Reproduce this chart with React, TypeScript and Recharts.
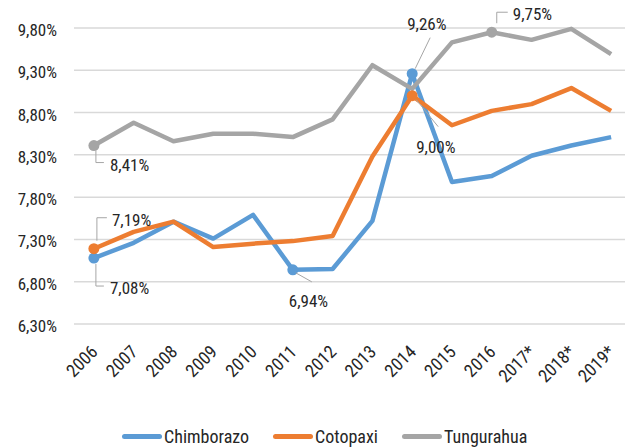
import React from 'react'
import { LineChart, Line, XAxis, YAxis, CartesianGrid } from 'recharts'

const years = ['2006', '2007', '2008', '2009', '2010', '2011', '2012', '2013', '2014', '2015', '2016', '2017*', '2018*', '2019*']
const chimborazo = [7.08, 7.26, 7.51, 7.31, 7.59, 6.94, 6.95, 7.52, 9.26, 7.98, 8.05, 8.29, 8.41, 8.51]
const cotopaxi = [7.19, 7.39, 7.51, 7.21, 7.25, 7.28, 7.34, 8.28, 9.0, 8.65, 8.82, 8.9, 9.09, 8.82]
const tungurahua = [8.41, 8.68, 8.46, 8.55, 8.55, 8.51, 8.72, 9.36, 9.08, 9.63, 9.75, 9.66, 9.79, 9.49]
const yTicks = [6.3, 6.8, 7.3, 7.8, 8.3, 8.8, 9.3, 9.8]

const data = years.map((y, i) => ({
  year: y,
  Chimborazo: chimborazo[i],
  Cotopaxi: cotopaxi[i],
  Tungurahua: tungurahua[i],
}))

const FONT = "'Liberation Sans Narrow', 'Arial Narrow', 'Roboto Condensed', sans-serif"
const TXT = '#262626'
const LEADER = '#A6A6A6'

const pct = (v: number) => v.toFixed(2).replace('.', ',') + '%'

// label placement for the few annotated points (offsets from the point)
type Callout = { index: number; dx: number; dy: number; path: (x: number, y: number) => string }

const calloutsChim: Callout[] = [
  { index: 0, dx: 16, dy: 36, path: (x, y) => `M${x + 2},${y + 6}V${y + 28}H${x + 10}` },
  { index: 5, dx: -4, dy: 37, path: (x, y) => `M${x + 3},${y + 3}L${x + 19},${y + 12}` },
  { index: 8, dx: -5, dy: -44, path: (x, y) => `M${x + 18},${y - 36}L${x + 3},${y - 5}` },
]
const calloutsCoto: Callout[] = [
  { index: 0, dx: 18, dy: -23, path: (x, y) => `M${x + 3},${y - 8}V${y - 31}H${x + 13}` },
  { index: 8, dx: 4, dy: 57, path: (x, y) => `M${x + 4},${y + 4}L${x + 26},${y + 31}` },
]
const calloutsTung: Callout[] = [
  { index: 0, dx: 16, dy: 25, path: (x, y) => `M${x + 2},${y + 5}V${y + 17}H${x + 10}` },
  { index: 10, dx: 21, dy: -12, path: (x, y) => `M${x + 5},${y - 9}V${y - 20}H${x + 16}` },
]

function makeDot(callouts: Callout[], color: string) {
  return (props: any) => {
    const { cx, cy, index } = props
    if (!callouts.some(c => c.index === index)) return <g key={`d${index}`} />
    return <circle key={`d${index}`} cx={cx} cy={cy} r={5.5} fill={color} stroke="none" />
  }
}

function makeLabel(callouts: Callout[]) {
  return (props: any) => {
    const { x, y, index, value } = props
    const c = callouts.find(k => k.index === index)
    if (!c) return <g key={`l${index}`} />
    return (
      <g key={`l${index}`}>
        <path d={c.path(x, y)} stroke={LEADER} strokeWidth={1} fill="none" />
        <text x={x + c.dx} y={y + c.dy} fontSize={17} fontFamily={FONT} fill={TXT}>
          {pct(value)}
        </text>
      </g>
    )
  }
}

function YearTick({ x, y, payload }: any) {
  return (
    <text
      transform={`translate(${x + 5},${y + 21}) rotate(-45)`}
      textAnchor="end"
      fontSize={18}
      fontFamily={FONT}
      fill={TXT}
    >
      {payload.value}
    </text>
  )
}

const series = [
  { key: 'Chimborazo', color: '#5B9BD5', callouts: calloutsChim },
  { key: 'Cotopaxi', color: '#ED7D31', callouts: calloutsCoto },
  { key: 'Tungurahua', color: '#A5A5A5', callouts: calloutsTung },
]

export default function App() {
  return (
    <div style={{ position: 'absolute', left: 0, top: 0, width: 625, height: 448, overflow: 'hidden', background: '#fff' }}>
      <LineChart width={631} height={448} data={data} margin={{ top: 28, right: 0, bottom: 94, left: 0 }}>
        <CartesianGrid vertical={false} stroke="#D9D9D9" strokeWidth={1.5} />
        <XAxis
          dataKey="year"
          scale="band"
          axisLine={false}
          tickLine={false}
          interval={0}
          height={30}
          tick={<YearTick />}
        />
        <YAxis
          domain={[6.3, 9.8]}
          ticks={yTicks}
          width={74}
          axisLine={false}
          tickLine={false}
          tickMargin={11}
          tickFormatter={pct}
          tick={{ fontSize: 17, fontFamily: FONT, fill: TXT, dy: 2 }}
        />
        {series.map(s => (
          <Line
            key={s.key}
            dataKey={s.key}
            stroke={s.color}
            strokeWidth={4.5}
            strokeLinejoin="round"
            dot={makeDot(s.callouts, s.color)}
            activeDot={false}
            label={makeLabel(s.callouts)}
            isAnimationActive={false}
          />
        ))}
      </LineChart>
      <div style={{ position: 'absolute', left: 122, top: 426, display: 'flex', alignItems: 'center', fontFamily: FONT, fontSize: 18, color: TXT }}>
        {series.map((s, i) => (
          <div key={s.key} style={{ display: 'flex', alignItems: 'center', marginLeft: i === 0 ? 0 : 24 }}>
            <span style={{ display: 'inline-block', width: 40, height: 5, borderRadius: 3, background: s.color, marginRight: 2 }} />
            <span>{s.key}</span>
          </div>
        ))}
      </div>
    </div>
  )
}
